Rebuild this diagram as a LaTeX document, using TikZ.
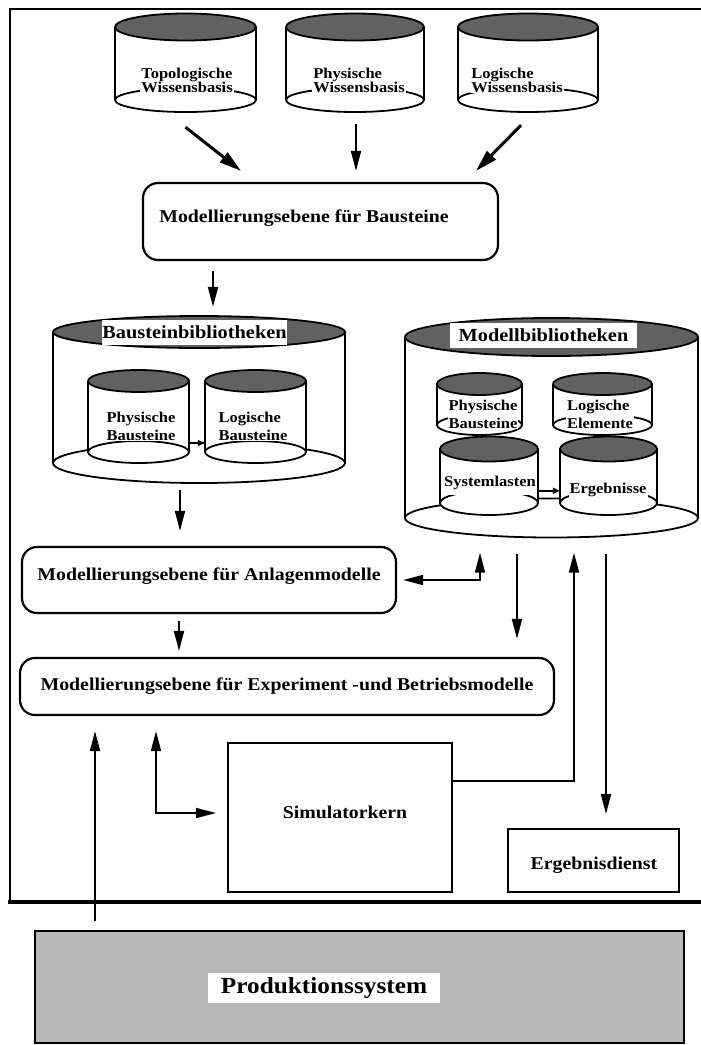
\documentclass[tikz,border=0pt]{standalone}
\usepackage{fontspec}
\setmainfont{Liberation Serif}[FakeStretch=1.1]
\usetikzlibrary{arrows.meta,calc}
\definecolor{hatch}{gray}{0.38}
\definecolor{prodfill}{gray}{0.72}

% cylinder: #1 name, #2 centre x, #3 top ellipse y, #4 bottom ellipse y,
% #5 x radius, #6 top y radius, #7 bottom y radius
\newcommand\drawcyl[7]{%
  \fill[white] (#2-#5,#3) rectangle (#2+#5,#4);
  \fill[white] (#2,#4) ellipse [x radius=#5, y radius=#7];
  \draw[cylline] (#2-#5,#3) -- (#2-#5,#4) (#2+#5,#3) -- (#2+#5,#4);
  \draw[cylline] (#2,#4) ellipse [x radius=#5, y radius=#7];
  \filldraw[cylline, fill=hatch] (#2,#3) ellipse [x radius=#5, y radius=#6];
  \node[inner sep=0pt, minimum width=2*#5, minimum height=#4-#3+#6+#7] (#1)
    at (#2, {(#3-#6+#4+#7)/2}) {};
}

\begin{document}
\begin{tikzpicture}[x=1pt, y=-1pt,
  cylline/.style={line width=1.8pt},
  rbox/.style={draw, line width=2.2pt, rounded corners=15pt, inner sep=0pt},
  sbox/.style={draw, line width=2pt, inner sep=0pt},
  boxtext/.style={font=\fontsize{18}{20}\selectfont\bfseries, inner sep=1pt},
  cyltext/.style={font=\fontsize{15}{14}\selectfont\bfseries, fill=white, align=left, inner sep=1pt},
  innertext/.style={font=\fontsize{15}{18}\selectfont\bfseries, fill=white, align=left, inner sep=1pt},
  libtext/.style={font=\fontsize{18.5}{20}\selectfont\bfseries, fill=white, inner sep=0pt, minimum height=25pt},
  arr/.style={line width=1.8pt, -{Triangle[length=20pt,width=10pt]}},
  dblarr/.style={line width=1.8pt, {Triangle[length=20pt,width=10pt]}-{Triangle[length=20pt,width=10pt]}},
  bigarr/.style={line width=3pt, -{Triangle[length=22pt,width=12pt]}},
  smallarr/.style={line width=1.5pt, -{Triangle[length=7pt,width=6pt]}},
]
\useasboundingbox (0,0) rectangle (701,1045);

% outer frame, open to the right
\draw[line width=1.6pt] (701,9) -- (10,9) -- (10,902);
\draw[line width=4pt] (8,902) -- (701,902);

% knowledge bases
\drawcyl{c1}{185.5}{27}{100}{70.5}{13.5}{12}
\drawcyl{c2}{355}{27}{100}{69}{13.5}{12}
\drawcyl{c3}{528}{27}{100}{70}{13.5}{12}
\node[cyltext] (c1t) at (187,80) {Topologische\\Wissensbasis};
\node[cyltext] (c2t) at (359,80) {Physische\\Wissensbasis};
\node[cyltext] (c3t) at (517,80) {Logische\\Wissensbasis};

% modelling level for building blocks
\node[rbox, minimum width=355pt, minimum height=77pt] (bb) at (320.5,221.5) {};
\node[boxtext] (bbt) at (304,218) {Modellierungsebene für Bausteine};

% building block library
\drawcyl{lbib}{199}{332}{463}{146}{16}{20}
\node[libtext, minimum width=185pt] (lbibt) at (194.5,332.5) {Bausteinbibliotheken};
\drawcyl{l1}{138.5}{381}{452}{50.5}{11}{11}
\drawcyl{l2}{255.5}{381}{452}{50.5}{11}{11}
\node[innertext] (l1t) at (141,426) {Physische\\Bausteine};
\node[innertext] (l2t) at (253,426) {Logische\\Bausteine};
\draw[smallarr] ($(l1.east)+(0,26.5)$) -- ($(l2.west)+(0,26.5)$);

% model library
\drawcyl{rbib}{551.5}{337}{518}{146.5}{19}{19.5}
\node[libtext, minimum width=187pt] (rbibt) at (543.5,335) {Modellbibliotheken\hspace{14pt}};
\drawcyl{r1}{479.5}{384}{425}{42.5}{11}{10}
\drawcyl{r2}{602.5}{384}{425}{49.5}{11}{10}
\drawcyl{r3}{489}{449}{503}{49}{12.5}{12}
\drawcyl{r4}{608.5}{449}{503}{48.5}{12.5}{12}
\node[innertext] (r1t) at (483,414) {Physische\\Bausteine};
\node[innertext] (r2t) at (600,414) {Logische\\Elemente};
\node[innertext, inner ysep=5pt] (r3t) at (490,483) {Systemlasten};
\node[innertext, inner ysep=3pt] (r4t) at (608,490) {Ergebnisse};
\draw[smallarr] ($(r3.east)+(0,15)$) -- ($(r4.west)+(0,15)$);

% lower modelling levels, simulator and result service
\node[rbox, minimum width=374pt, minimum height=66pt] (anl) at (209,580) {};
\node[boxtext] (anlt) at (209,576) {Modellierungsebene für Anlagenmodelle};
\node[rbox, minimum width=534pt, minimum height=57pt] (exp) at (287,686.5) {};
\node[boxtext] (expt) at (287,686) {Modellierungsebene für Experiment -und Betriebsmodelle};
\node[sbox, minimum width=224pt, minimum height=149pt] (sim) at (340,817.5) {};
\node[boxtext] (simt) at (345,812) {Simulatorkern};
\node[sbox, minimum width=171pt, minimum height=63pt] (erg) at (593.5,860.5) {};
\node[boxtext] (ergt) at (594,865) {Ergebnisdienst};

% production system
\node[draw, line width=1.8pt, fill=prodfill, minimum width=649pt, minimum height=112pt] (prod) at (359.5,987) {};
\node[fill=white, font=\fontsize{23}{26}\selectfont\bfseries, minimum width=232pt, minimum height=30pt, inner sep=0pt] (prodt) at (324,988) {Produktionssystem};

% connectors
\draw[bigarr] ($(c1.south)+(0,15)$) -- ($(bb.north)+(-79.5,-11)$);
\draw[arr] ($(c2.south)+(1,12)$) -- ($(bb.north)+(35.5,-11)$);
\draw[bigarr] ($(c3.south)+(-7,13)$) -- ($(bb.north)+(155.5,-11)$);
\draw[arr] ($(bb.south)+(-107.5,10)$) -- ($(lbib.north)+(14,-9)$);
\draw[arr] ($(lbib.south)+(-19,7)$) -- ($(anl.north)+(-29,-15)$);
\draw[arr] ($(anl.south)+(-30,7)$) -- ($(exp.north)+(-108,-6)$);
\draw[dblarr] ($(rbib.south)+(-71.5,15)$) |- ($(anl.east)+(6,0)$);
\draw[arr] ($(rbib.south)+(-34.5,16)$) -- ($(exp.north)+(230,-18)$);
\draw[arr] ($(sim.east)+(0,-36.5)$) -| ($(rbib.south)+(22.5,15)$);
\draw[arr] ($(rbib.south)+(54.5,16)$) -- ($(erg.north)+(12.5,-14)$);
\draw[dblarr] ($(exp.south)+(-131,15)$) |- ($(sim.west)+(-11,-4.5)$);
\draw[arr] ($(prod.north)+(-264.5,-9)$) -- ($(exp.south)+(-192,15)$);
\end{tikzpicture}
\end{document}
